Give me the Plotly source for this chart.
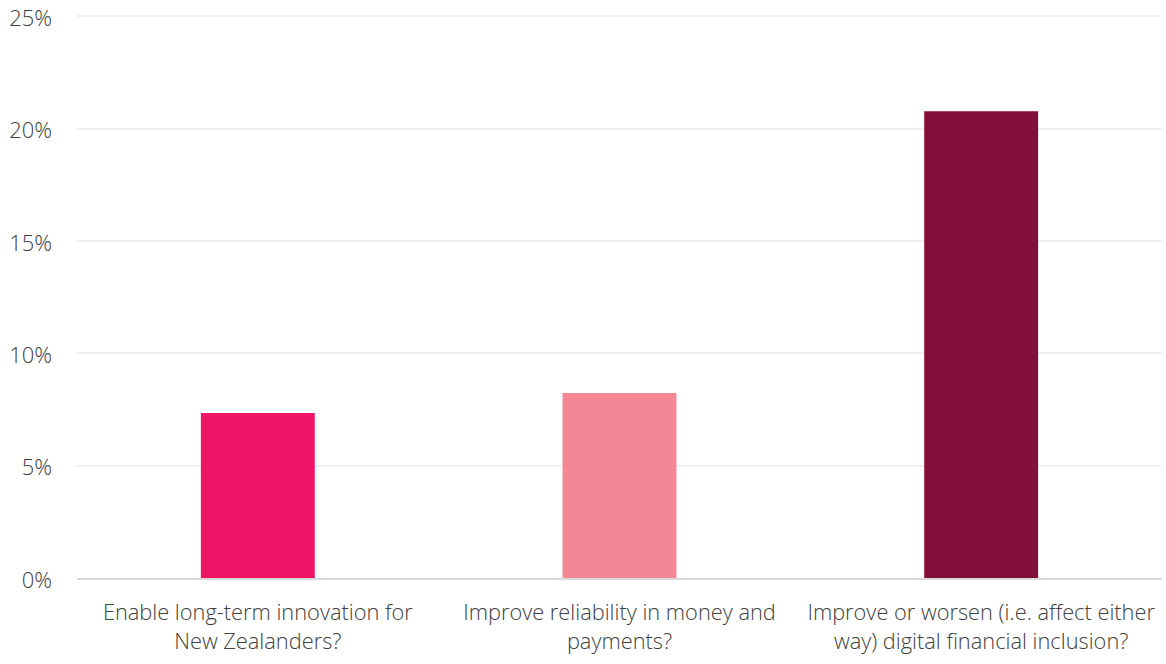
import plotly.graph_objects as go

categories = [
    "Enable long-term innovation for<br>New Zealanders?",
    "Improve reliability in money and<br>payments?",
    "Improve or worsen (i.e. affect either<br>way) digital financial inclusion?",
]
values = [0.0734, 0.0823, 0.2077]
colors = ["#EE1466", "#F38795", "#840F3A"]
y_ticks = [0, 0.05, 0.10, 0.15, 0.20, 0.25]
y_tick_labels = ["0%", "5%", "10%", "15%", "20%", "25%"]

font_family = "Open Sans"

fig = go.Figure(
    go.Bar(x=categories, y=values, marker=dict(color=colors, line=dict(width=0)), width=0.315,
           hoverinfo="skip")
)
fig.update_layout(
    width=1166,
    height=664,
    margin=dict(l=77, r=4, t=14, b=86),
    paper_bgcolor="white",
    plot_bgcolor="white",
    showlegend=False,
    font=dict(family=font_family, size=22, color="#404040", weight=300),
)
fig.update_xaxes(
    showline=True, linecolor="#D9D9D9", linewidth=2,
    tickfont=dict(size=21.8, color="#404040", family=font_family, weight=300),
    ticks="", showgrid=False, automargin=False, ticklabelstandoff=14,
    ticklabeloverflow="allow",
)
fig.update_yaxes(
    range=[0, 0.251], tickvals=y_ticks, ticktext=y_tick_labels,
    showgrid=True, gridcolor="#F0F0F0", gridwidth=2,
    zeroline=False, showline=False, ticks="", automargin=False,
    tickfont=dict(size=22, color="#404040", family=font_family, weight=300),
    ticklabelstandoff=24, ticklabeloverflow="allow", ticklabelshift=2,
)
fig.write_html(
    "out.html",
    config={"displayModeBar": False},
    post_script="document.body.style.margin='0';document.body.style.overflow='hidden';",
)
